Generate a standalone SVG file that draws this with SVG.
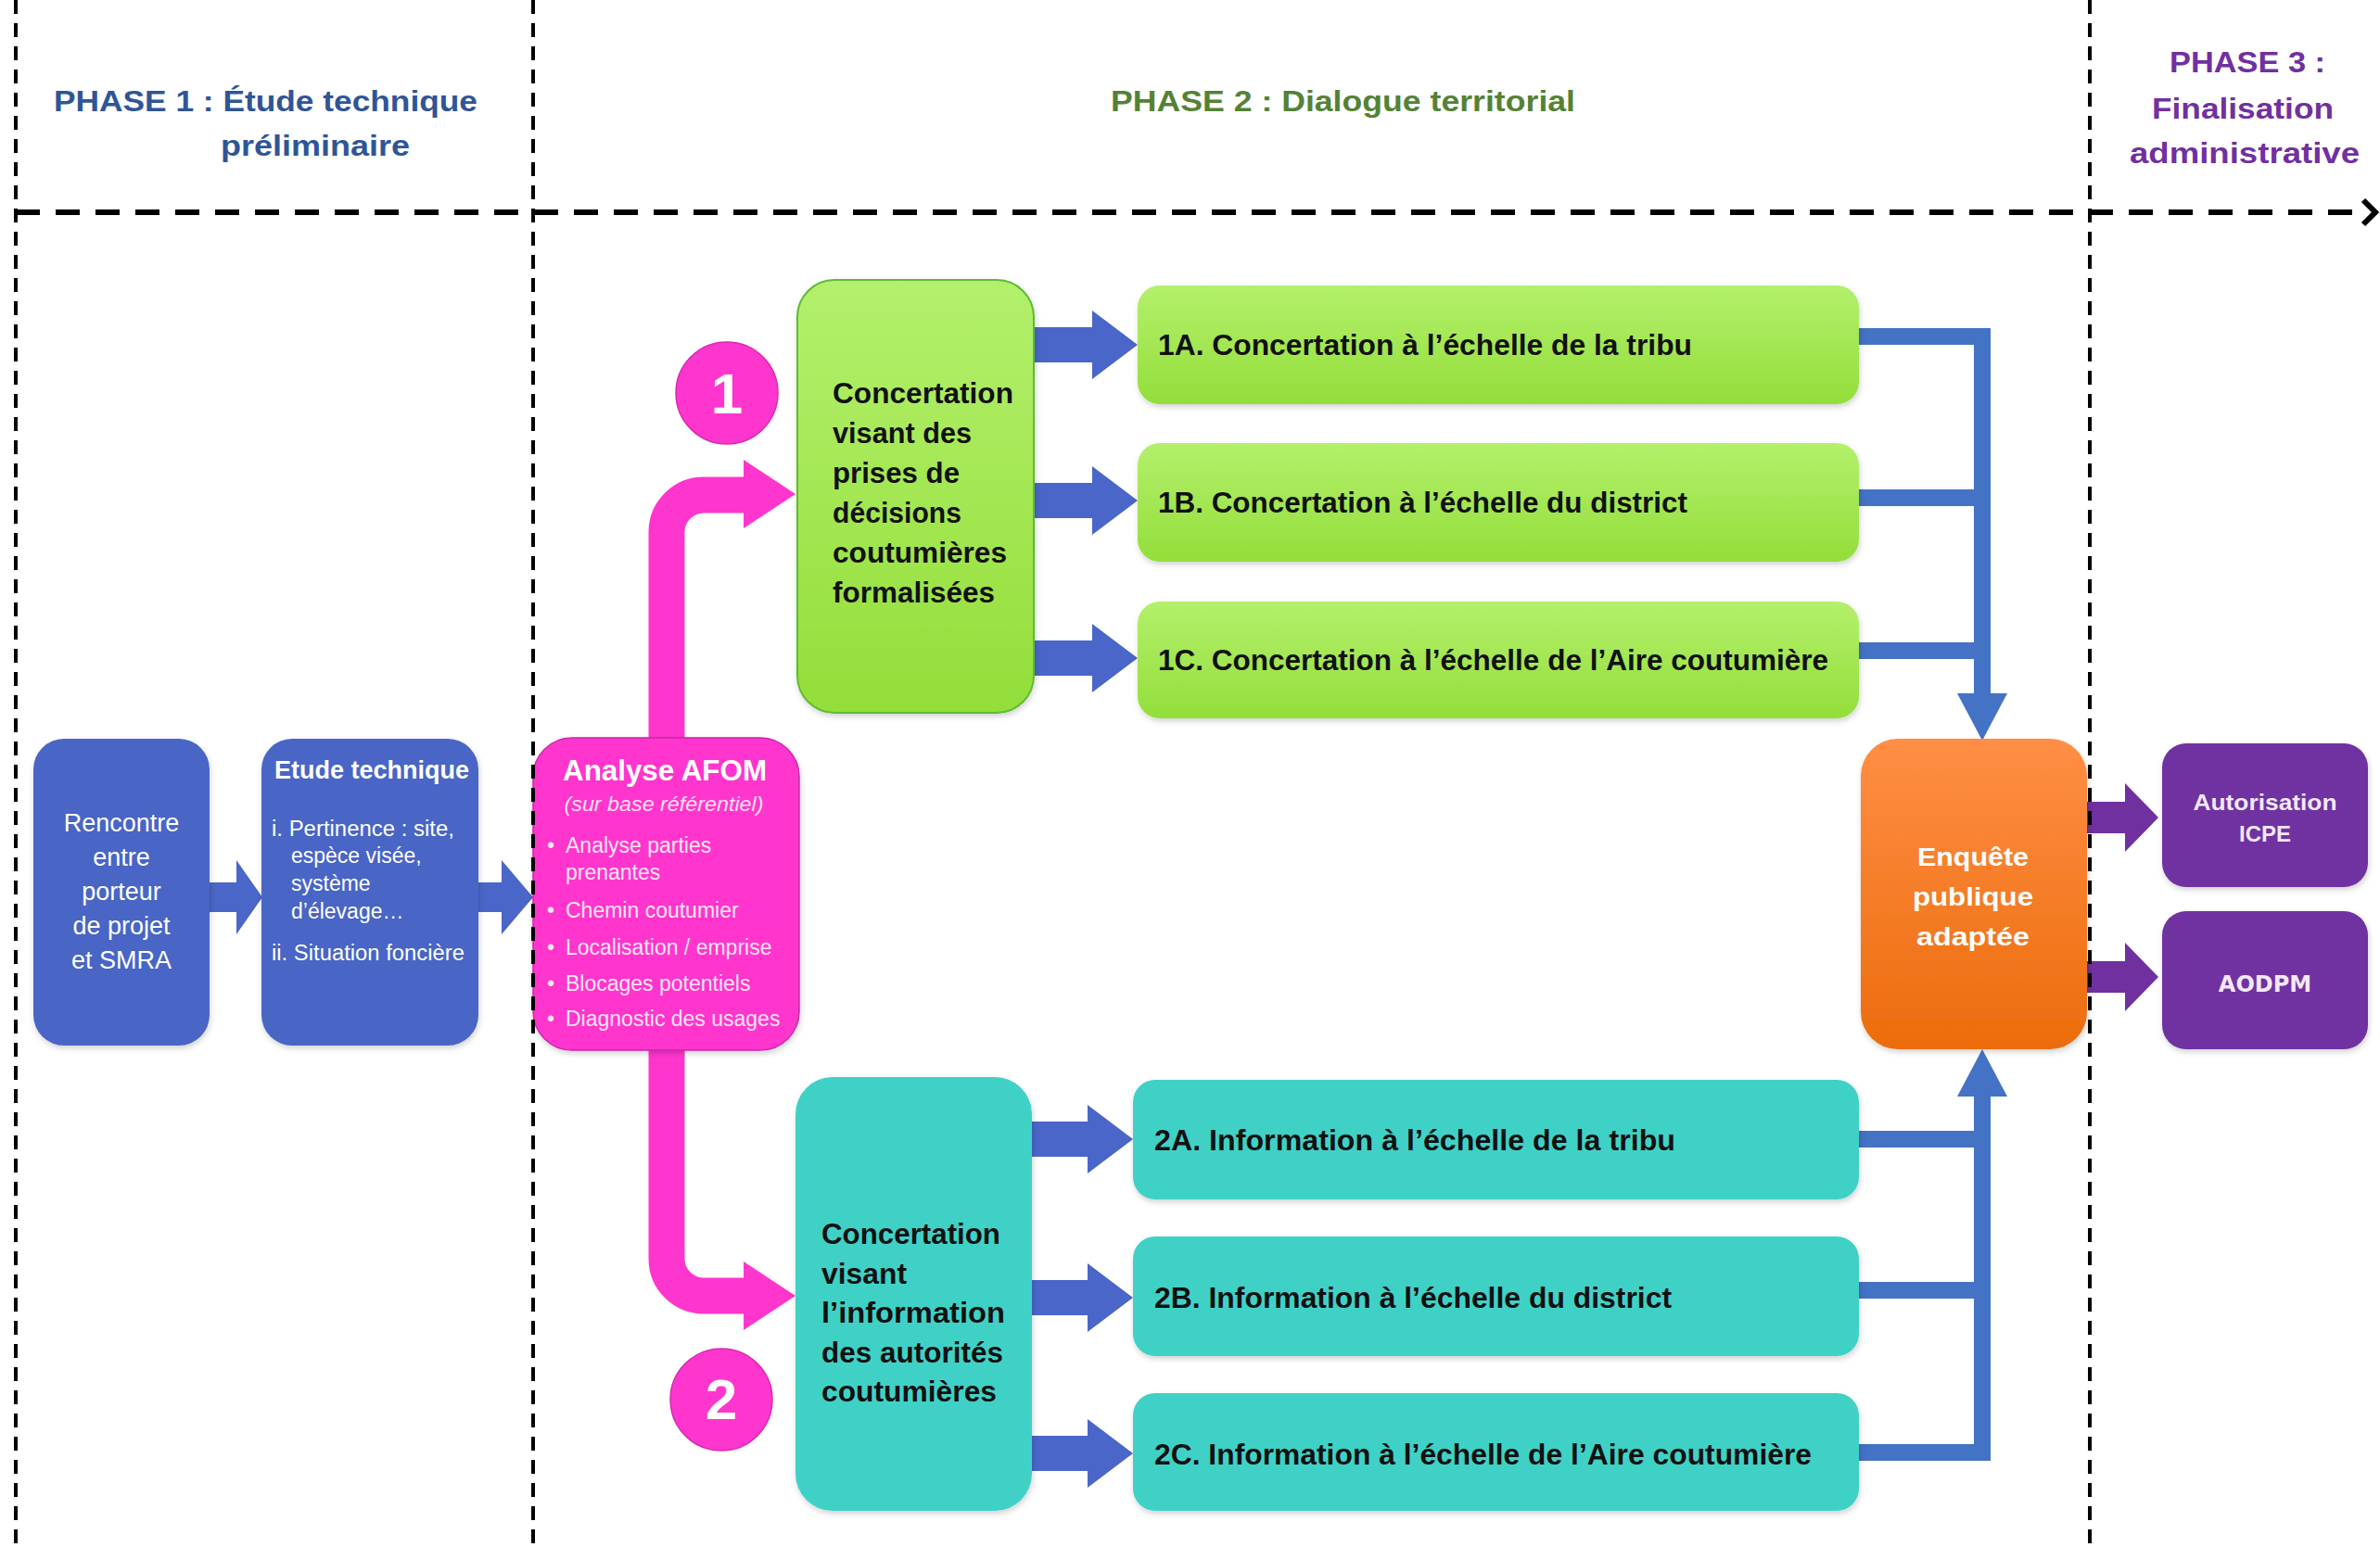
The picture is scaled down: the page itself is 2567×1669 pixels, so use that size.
<svg xmlns="http://www.w3.org/2000/svg" width="2567" height="1669" viewBox="0 0 2567 1669">
<defs>
<linearGradient id="gGreen" x1="0" y1="0" x2="0" y2="1"><stop offset="0" stop-color="#B4F06C"/><stop offset="1" stop-color="#93DE3A"/></linearGradient>
<linearGradient id="gOrange" x1="0" y1="0" x2="0" y2="1"><stop offset="0" stop-color="#FF8E45"/><stop offset="1" stop-color="#EC6C0C"/></linearGradient>
<filter id="sh" x="-10%" y="-10%" width="120%" height="125%"><feDropShadow dx="1" dy="3" stdDeviation="3" flood-color="#000" flood-opacity="0.18"/></filter>
</defs>
<style>
text{font-family:"Liberation Sans",Arial,sans-serif}
.hd{font-size:32px;font-weight:bold}
.blue{fill:#4A65C5}
.wt{fill:#fff}
.bk{fill:#111;font-weight:bold;font-size:31px}
.green{fill:url(#gGreen)}
.teal{fill:#41D1C6}
.pink{fill:#FF36CD}
.purple{fill:#7030A0}
.barrow{fill:#4A66C8}
.parrow{fill:#7030A0}
.pkarrow{fill:#FF36CD}
.bus{fill:none;stroke:#4472C4;stroke-width:18}
.pkline{fill:none;stroke:#FF36CD;stroke-width:39}
.dash{stroke:#000;stroke-width:4;stroke-dasharray:15 10;fill:none}
.dv{font-family:"DejaVu Sans",Verdana,sans-serif;font-weight:bold;fill:#fff}
</style>
<rect width="2567" height="1669" fill="#fff"/>

<g id="headers">
<text class="hd" x="58" y="120" fill="#2F5597" textLength="457" lengthAdjust="spacingAndGlyphs">PHASE 1 :  Étude technique</text>
<text class="hd" x="238" y="168" fill="#2F5597" textLength="204" lengthAdjust="spacingAndGlyphs">préliminaire</text>
<text class="hd" x="1198" y="120" fill="#548235" textLength="501" lengthAdjust="spacingAndGlyphs">PHASE 2 : Dialogue territorial</text>
<text class="hd" x="2340" y="78" fill="#7030A0" textLength="168" lengthAdjust="spacingAndGlyphs">PHASE 3 :</text>
<text class="hd" x="2321" y="128" fill="#7030A0" textLength="196" lengthAdjust="spacingAndGlyphs">Finalisation</text>
<text class="hd" x="2297" y="176" fill="#7030A0" textLength="248" lengthAdjust="spacingAndGlyphs">administrative</text>
</g>

<g id="connectors">
<polygon class="barrow" points="226,952 255,952 255,928 283,968 255,1008 255,984 226,984"/>
<polygon class="barrow" points="516,952 541,952 541,928 575,968 541,1008 541,984 516,984"/>
<path class="pkline" d="M719 800 L719 574 A40 40 0 0 1 759 534 L806 534"/>
<polygon class="pkarrow" points="802,496 858,533 802,570"/>
<path class="pkline" d="M719 1130 L719 1358 A40 40 0 0 0 759 1398 L806 1398"/>
<polygon class="pkarrow" points="802,1361 858,1398 802,1435"/>
<polygon class="barrow" points="1115,353 1178,353 1178,335 1227,372 1178,409 1178,391 1115,391"/>
<polygon class="barrow" points="1115,521 1178,521 1178,503 1227,540 1178,577 1178,559 1115,559"/>
<polygon class="barrow" points="1115,691 1178,691 1178,673 1227,710 1178,747 1178,729 1115,729"/>
<polygon class="barrow" points="1113,1210 1173,1210 1173,1192 1222,1229 1173,1266 1173,1248 1113,1248"/>
<polygon class="barrow" points="1113,1381 1173,1381 1173,1363 1222,1400 1173,1437 1173,1419 1113,1419"/>
<polygon class="barrow" points="1113,1549 1173,1549 1173,1531 1222,1568 1173,1605 1173,1587 1113,1587"/>
<path class="bus" d="M2005 363 L2138 363 L2138 752 M2005 537 L2138 537 M2005 702 L2138 702"/>
<polygon fill="#4472C4" points="2111,748 2165,748 2138,799"/>
<path class="bus" d="M2005 1229 L2138 1229 M2005 1392 L2138 1392 M2005 1567 L2138 1567 L2138 1178"/>
<polygon fill="#4472C4" points="2111,1183 2165,1183 2138,1132"/>
<polygon class="parrow" points="2251,865 2292,865 2292,845 2328,882 2292,919 2292,899 2251,899"/>
<polygon class="parrow" points="2251,1037 2292,1037 2292,1017 2328,1054 2292,1091 2292,1071 2251,1071"/>
</g>

<g id="node-rencontre">
<rect class="blue" x="36" y="797" width="190" height="331" rx="33" filter="url(#sh)"/>
<g class="wt" font-size="27" text-anchor="middle">
<text x="131" y="897">Rencontre</text>
<text x="131" y="934">entre</text>
<text x="131" y="971">porteur</text>
<text x="131" y="1008">de projet</text>
<text x="131" y="1045">et SMRA</text>
</g>
</g>

<g id="node-etude">
<rect class="blue" x="282" y="797" width="234" height="331" rx="33" filter="url(#sh)"/>
<text class="wt" x="401" y="840" font-size="27" font-weight="bold" text-anchor="middle" textLength="210" lengthAdjust="spacingAndGlyphs">Etude technique</text>
<g class="wt" font-size="23">
<text x="293" y="902" textLength="197" lengthAdjust="spacingAndGlyphs">i. Pertinence : site,</text>
<text x="314" y="931">espèce visée,</text>
<text x="314" y="961">système</text>
<text x="314" y="991">d’élevage…</text>
<text x="293" y="1036" textLength="208" lengthAdjust="spacingAndGlyphs">ii. Situation foncière</text>
</g>
</g>

<g id="node-afom">
<rect class="pink" x="575" y="796" width="287" height="337" rx="42" stroke="#C82AA8" stroke-width="1.5" filter="url(#sh)"/>
<text class="wt" x="717" y="842" font-size="31" font-weight="bold" text-anchor="middle" textLength="220" lengthAdjust="spacingAndGlyphs">Analyse AFOM</text>
<text x="716" y="875" font-size="22" font-style="italic" fill="#FCE0F4" text-anchor="middle" textLength="215" lengthAdjust="spacingAndGlyphs">(sur base référentiel)</text>
<g font-size="23" fill="#FCE6F6">
<text x="590" y="920">•</text><text x="610" y="920">Analyse parties</text>
<text x="610" y="949">prenantes</text>
<text x="590" y="990">•</text><text x="610" y="990">Chemin coutumier</text>
<text x="590" y="1030">•</text><text x="610" y="1030">Localisation / emprise</text>
<text x="590" y="1069">•</text><text x="610" y="1069">Blocages potentiels</text>
<text x="590" y="1107">•</text><text x="610" y="1107">Diagnostic des usages</text>
</g>
</g>

<g id="badge-1">
<circle cx="784" cy="424" r="55" class="pink" stroke="#D82AB5" stroke-width="1.5"/>
<text class="wt" x="784" y="446" font-size="62" font-weight="bold" text-anchor="middle">1</text>
</g>
<g id="badge-2">
<circle cx="778" cy="1510" r="55" class="pink" stroke="#D82AB5" stroke-width="1.5"/>
<text class="wt" x="778" y="1531" font-size="62" font-weight="bold" text-anchor="middle">2</text>
</g>

<g id="node-concertation-1">
<rect class="green" x="860" y="302" width="255" height="467" rx="40" stroke="#5DBB35" stroke-width="2" filter="url(#sh)"/>
<g class="bk">
<text x="898" y="435" textLength="195" lengthAdjust="spacingAndGlyphs">Concertation</text>
<text x="898" y="478" textLength="150" lengthAdjust="spacingAndGlyphs">visant des</text>
<text x="898" y="521" textLength="137" lengthAdjust="spacingAndGlyphs">prises de</text>
<text x="898" y="564" textLength="139" lengthAdjust="spacingAndGlyphs">décisions</text>
<text x="898" y="607" textLength="188" lengthAdjust="spacingAndGlyphs">coutumières</text>
<text x="898" y="650" textLength="175" lengthAdjust="spacingAndGlyphs">formalisées</text>
</g>
</g>

<g id="node-1A">
<rect class="green" x="1227" y="308" width="778" height="128" rx="24" filter="url(#sh)"/>
<text class="bk" x="1249" y="383" textLength="576" lengthAdjust="spacingAndGlyphs">1A. Concertation à l’échelle de la tribu</text>
</g>
<g id="node-1B">
<rect class="green" x="1227" y="478" width="778" height="128" rx="24" filter="url(#sh)"/>
<text class="bk" x="1249" y="553" textLength="571" lengthAdjust="spacingAndGlyphs">1B. Concertation à l’échelle du district</text>
</g>
<g id="node-1C">
<rect class="green" x="1227" y="649" width="778" height="126" rx="24" filter="url(#sh)"/>
<text class="bk" x="1249" y="723" textLength="723" lengthAdjust="spacingAndGlyphs">1C. Concertation à l’échelle de l’Aire coutumière</text>
</g>

<g id="node-concertation-2">
<rect class="teal" x="858" y="1162" width="255" height="468" rx="40" filter="url(#sh)"/>
<g class="bk">
<text x="886" y="1342" textLength="193" lengthAdjust="spacingAndGlyphs">Concertation</text>
<text x="886" y="1385" textLength="92" lengthAdjust="spacingAndGlyphs">visant</text>
<text x="886" y="1427" textLength="198" lengthAdjust="spacingAndGlyphs">l’information</text>
<text x="886" y="1470" textLength="196" lengthAdjust="spacingAndGlyphs">des autorités</text>
<text x="886" y="1512" textLength="189" lengthAdjust="spacingAndGlyphs">coutumières</text>
</g>
</g>

<g id="node-2A">
<rect class="teal" x="1222" y="1165" width="783" height="129" rx="24" filter="url(#sh)"/>
<text class="bk" x="1245" y="1241" textLength="562" lengthAdjust="spacingAndGlyphs">2A. Information à l’échelle de la tribu</text>
</g>
<g id="node-2B">
<rect class="teal" x="1222" y="1334" width="783" height="129" rx="24" filter="url(#sh)"/>
<text class="bk" x="1245" y="1411" textLength="558" lengthAdjust="spacingAndGlyphs">2B. Information à l’échelle du district</text>
</g>
<g id="node-2C">
<rect class="teal" x="1222" y="1503" width="783" height="127" rx="24" filter="url(#sh)"/>
<text class="bk" x="1245" y="1580" textLength="709" lengthAdjust="spacingAndGlyphs">2C. Information à l’échelle de l’Aire coutumière</text>
</g>

<g id="node-enquete">
<rect x="2007" y="797" width="244" height="335" rx="40" fill="url(#gOrange)" filter="url(#sh)"/>
<g class="dv" font-size="27" text-anchor="middle">
<text x="2128" y="934" textLength="120" lengthAdjust="spacingAndGlyphs">Enquête</text>
<text x="2128" y="977" textLength="130" lengthAdjust="spacingAndGlyphs">publique</text>
<text x="2128" y="1020" textLength="122" lengthAdjust="spacingAndGlyphs">adaptée</text>
</g>
</g>

<g id="node-icpe">
<rect class="purple" x="2332" y="802" width="222" height="155" rx="26" filter="url(#sh)"/>
<g class="dv" font-size="24" text-anchor="middle">
<text x="2443" y="874" textLength="155" lengthAdjust="spacingAndGlyphs" style="fill:#F2E8F8">Autorisation</text>
<text x="2443" y="908" style="fill:#F2E8F8">ICPE</text>
</g>
</g>
<g id="node-aodpm">
<rect class="purple" x="2332" y="983" width="222" height="149" rx="26" filter="url(#sh)"/>
<text class="dv" x="2443" y="1070" font-size="24" text-anchor="middle" style="fill:#F2E8F8">AODPM</text>
</g>

<g id="phase-lines">
<line class="dash" x1="17" y1="0" x2="17" y2="1669"/>
<line class="dash" x1="575" y1="0" x2="575" y2="1669"/>
<line class="dash" x1="2254" y1="0" x2="2254" y2="1669"/>
<line x1="17" y1="229" x2="2552" y2="229" stroke="#000" stroke-width="6" stroke-dasharray="26 17"/>
<polyline points="2549,216 2562,229 2549,242" fill="none" stroke="#000" stroke-width="6"/>
</g>
</svg>
